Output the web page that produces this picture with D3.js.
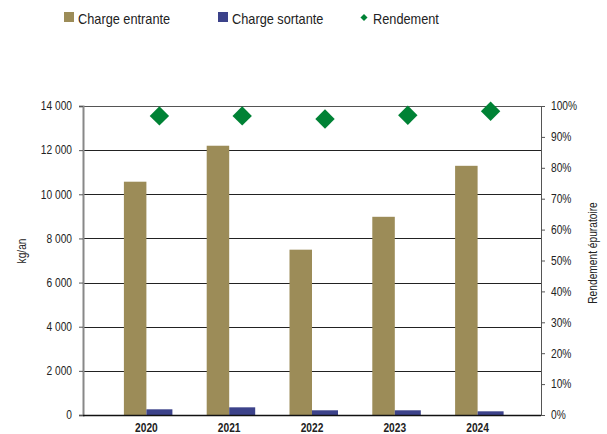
<!DOCTYPE html>
<html>
<head>
<meta charset="utf-8">
<script src="https://cdn.jsdelivr.net/npm/d3@7/dist/d3.min.js"></script>
<style>
  html, body { margin: 0; padding: 0; background: #fff; }
  svg { display: block; }
  text { font-family: "Liberation Sans", Arial, sans-serif; fill: #222; }
</style>
</head>
<body>
<svg id="chart" width="607" height="434"></svg>
<script>
// Annual loads (kg/an) and treatment efficiency
const years = ["2020", "2021", "2022", "2023", "2024"];
const chargeEntrante = [10570, 12200, 7490, 8980, 11290];
const chargeSortante = [258, 348, 213, 213, 167];
const rendement = [0.968, 0.968, 0.958, 0.970, 0.983];
const leftTicks = [0, 2000, 4000, 6000, 8000, 10000, 12000, 14000];
const rightTicks = [0, 0.1, 0.2, 0.3, 0.4, 0.5, 0.6, 0.7, 0.8, 0.9, 1.0];

const colEntrante = "#9c8c58";
const colSortante = "#3c428a";
const colRendement = "#008235";

const svg = d3.select("#chart");
const plot = { left: 83, right: 541, top: 106, bottom: 415 };

const x = d3.scaleBand().domain(years).range([105, 519]).padding(0);
const y = d3.scaleLinear().domain([0, 14000]).range([plot.bottom, plot.top]);
const y2 = d3.scaleLinear().domain([0, 1]).range([plot.bottom, plot.top]);
const center = d => x(d) + x.bandwidth() / 2;

// Narrow the glyphs horizontally to get a condensed face
function condense(sel, k = 0.85) {
  sel.each(function () {
    const w = this.getComputedTextLength();
    d3.select(this).attr("textLength", w * k).attr("lengthAdjust", "spacingAndGlyphs");
  });
}

// Horizontal gridlines
svg.append("g").selectAll("line")
  .data(leftTicks.filter(t => t > 0))
  .join("line")
  .attr("x1", plot.left).attr("x2", plot.right)
  .attr("y1", d => Math.round(y(d)) + 0.5).attr("y2", d => Math.round(y(d)) + 0.5)
  .attr("stroke", d => d === 14000 ? "#555" : "#222")
  .attr("stroke-width", 1);

// Bars
const entW = 22.5, sortW = 26;
svg.append("g").selectAll("rect")
  .data(years)
  .join("rect")
  .attr("x", (d) => center(d) - entW)
  .attr("width", entW)
  .attr("y", (d, i) => y(chargeEntrante[i]))
  .attr("height", (d, i) => y(0) - y(chargeEntrante[i]))
  .attr("fill", colEntrante);

svg.append("g").selectAll("rect")
  .data(years)
  .join("rect")
  .attr("x", (d) => center(d))
  .attr("width", sortW)
  .attr("y", (d, i) => y(chargeSortante[i]))
  .attr("height", (d, i) => y(0) - y(chargeSortante[i]))
  .attr("fill", colSortante);

// Left axis
const fmt = v => d3.format(",")(v).replace(/,/g, " ");
const gL = svg.append("g")
  .attr("transform", `translate(${plot.left},0)`)
  .call(d3.axisLeft(y).tickValues(leftTicks).tickFormat(fmt).tickSize(4).tickPadding(7));
gL.select(".domain").attr("stroke", "#888").attr("stroke-width", 2);
gL.selectAll(".tick line").attr("stroke", "#555");
gL.selectAll("text").style("font-size", "12px").attr("fill", "#222").call(condense);

// Right axis
const gR = svg.append("g")
  .attr("transform", `translate(${plot.right},0)`)
  .call(d3.axisRight(y2).tickValues(rightTicks).tickFormat(d3.format(".0%")).tickSize(4).tickPadding(6));
gR.select(".domain").attr("stroke", "#555").attr("stroke-width", 1);
gR.selectAll(".tick line").attr("stroke", "#555");
gR.selectAll("text").style("font-size", "12px").attr("fill", "#222").call(condense);

// Bottom axis line and year labels
svg.append("line")
  .attr("x1", plot.left).attr("x2", plot.right)
  .attr("y1", plot.bottom + 0.5).attr("y2", plot.bottom + 0.5)
  .attr("stroke", "#111").attr("stroke-width", 1.5);
svg.append("g").selectAll("text")
  .data(years)
  .join("text")
  .attr("x", d => center(d))
  .attr("y", 432)
  .attr("text-anchor", "middle")
  .style("font-size", "12px")
  .style("font-weight", "bold")
  .text(d => d)
  .call(condense);

// Efficiency markers
const diamond = d3.symbol().type(d3.symbolDiamond2).size(240);
svg.append("g").selectAll("path")
  .data(years)
  .join("path")
  .attr("d", diamond)
  .attr("transform", (d, i) => `translate(${center(d) + sortW / 2},${y2(rendement[i])})`)
  .attr("fill", colRendement);

// Axis titles
svg.append("text")
  .attr("transform", "translate(26,251) rotate(-90)")
  .attr("text-anchor", "middle")
  .style("font-size", "12px")
  .text("kg/an")
  .call(condense);
svg.append("text")
  .attr("transform", "translate(597,253) rotate(-90)")
  .attr("text-anchor", "middle")
  .style("font-size", "12px")
  .text("Rendement épuratoire")
  .call(condense);

// Legend
const legend = svg.append("g");
const items = [
  { label: "Charge entrante", color: colEntrante, type: "rect", x: 64 },
  { label: "Charge sortante", color: colSortante, type: "rect", x: 218 },
  { label: "Rendement", color: colRendement, type: "diamond", x: 360 }
];
items.forEach(it => {
  if (it.type === "rect") {
    legend.append("rect").attr("x", it.x).attr("y", 12).attr("width", 10).attr("height", 10).attr("fill", it.color);
  } else {
    legend.append("path")
      .attr("d", d3.symbol().type(d3.symbolDiamond2).size(32))
      .attr("transform", `translate(${it.x + 4},17.5)`)
      .attr("fill", it.color);
  }
  legend.append("text")
    .attr("x", it.x + (it.type === "rect" ? 14 : 13))
    .attr("y", 24)
    .style("font-size", "15px")
    .text(it.label)
    .call(condense);
});
</script>
</body>
</html>
